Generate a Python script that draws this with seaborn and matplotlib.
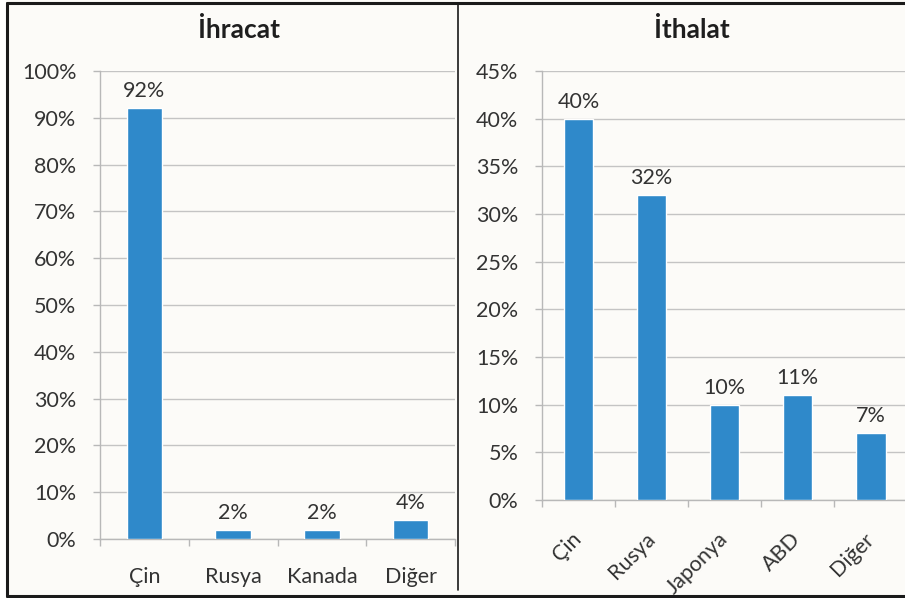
import matplotlib
matplotlib.use("Agg")
import matplotlib.pyplot as plt
import seaborn as sns
import pandas as pd
from matplotlib.lines import Line2D
from matplotlib.ticker import FixedLocator, FuncFormatter

sns.set_theme(style="white")
plt.rcParams['font.family'] = ['Lato', 'DejaVu Sans']

export_title = "İhracat"
export_cats = ["Çin", "Rusya", "Kanada", "Diğer"]
export_vals = [92, 2, 2, 4]
export_yticks = [0, 10, 20, 30, 40, 50, 60, 70, 80, 90, 100]

import_title = "İthalat"
import_cats = ["Çin", "Rusya", "Japonya", "ABD", "Diğer"]
import_vals = [40, 32, 10, 11, 7]
import_yticks = [0, 5, 10, 15, 20, 25, 30, 35, 40, 45]

BG = "#fcfbf8"
BAR = "#2f89ca"
GRID = "#c4c4c4"
TXT = "#333333"
FS = 15.5

fig = plt.figure(figsize=(9.05, 5.98), dpi=100, facecolor=BG)

W, H = 905, 598
ax1 = fig.add_axes([100/W, (H-539)/H, 355/W, 468/H])
ax2 = fig.add_axes([542/W, (H-500)/H, 365.5/W, 429/H])


def style(ax, cats, vals, yticks, rot, pad_x):
    df = pd.DataFrame({"cat": cats, "val": vals})
    sns.barplot(data=df, x="cat", y="val", color=BAR, width=0.4, ax=ax,
                saturation=1, zorder=3)
    ax.set_facecolor("none")
    n = len(cats)
    ax.set_xlim(-0.5, n - 0.5)
    ax.set_ylim(yticks[0], yticks[-1])
    ax.yaxis.set_major_locator(FixedLocator(yticks))
    ax.yaxis.set_major_formatter(FuncFormatter(lambda v, p: f"{v:.0f}%"))
    ax.grid(axis="y", color=GRID, linewidth=1, zorder=0)
    ax.set_axisbelow(True)
    for s in ["top", "right"]:
        ax.spines[s].set_visible(False)
    for s in ["left", "bottom"]:
        ax.spines[s].set_color("#b8b8b8")
        ax.spines[s].set_linewidth(1)
    ax.set_xlabel("")
    ax.set_ylabel("")
    ax.tick_params(axis="y", length=5, color="#b8b8b8", width=1, pad=12,
                   labelsize=FS, labelcolor=TXT, left=True)
    ax.set_xticks([i - 0.5 for i in range(n + 1)], minor=True)
    ax.tick_params(axis="x", which="minor", length=5, color="#b8b8b8", width=1,
                   bottom=True, direction="out")
    ax.tick_params(axis="x", which="major", length=0, pad=pad_x,
                   labelsize=FS, labelcolor=TXT)
    if rot:
        for lab in ax.get_xticklabels():
            lab.set_rotation(45)
            lab.set_ha("right")
            lab.set_rotation_mode("anchor")
            lab.set_va("center")
    for i, v in enumerate(vals):
        ax.annotate(f"{v}%", (i, v), xytext=(0, 5), textcoords="offset points",
                    ha="center", va="bottom", fontsize=FS, color=TXT)


style(ax1, export_cats, export_vals, export_yticks, False, 20)
style(ax2, import_cats, import_vals, import_yticks, True, 26)

fig.text(239/W, 1-30/H, export_title, ha="center", va="center",
         fontsize=19, fontweight="bold", color="#1e1e1e")
fig.text(692/W, 1-30/H, import_title, ha="center", va="center",
         fontsize=19, fontweight="bold", color="#1e1e1e")

# white margin outside the frame
fig.add_artist(plt.Rectangle((0, 0), 6/W, 1, transform=fig.transFigure,
                             facecolor="white", edgecolor="none"))

# frame lines
lc = "#1a1a1a"
fig.add_artist(Line2D([7/W, 7/W], [1-3/H, 1-596/H], color=lc, lw=2.2, transform=fig.transFigure))
fig.add_artist(Line2D([7/W, 1], [1-3/H, 1-3/H], color=lc, lw=2.2, transform=fig.transFigure))
fig.add_artist(Line2D([7/W, 1], [1-596/H, 1-596/H], color=lc, lw=2.2, transform=fig.transFigure))
fig.add_artist(Line2D([458/W, 458/W], [1-3/H, 1-590/H], color=lc, lw=1.2, transform=fig.transFigure))

fig.savefig("out.png", dpi=100, facecolor=fig.get_facecolor())
